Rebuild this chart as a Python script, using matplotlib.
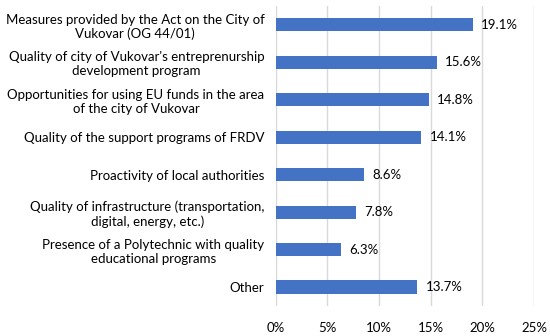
import matplotlib.pyplot as plt
from matplotlib.ticker import FuncFormatter

plt.rcParams['font.family'] = ['Lato', 'DejaVu Sans']

categories = [
    'Measures provided by the Act on the City of\nVukovar (OG 44/01)',
    "Quality of city of Vukovar's entreprenurship\ndevelopment program",
    'Opportunities for using EU funds in the area\nof the city of Vukovar',
    'Quality of the support programs of FRDV',
    'Proactivity of local authorities',
    'Quality of infrastructure (transportation,\ndigital, energy, etc.)',
    'Presence of a Polytechnic with quality\neducational programs',
    'Other',
]
values = [19.1, 15.6, 14.8, 14.1, 8.6, 7.8, 6.3, 13.7]
xticks = [0, 5, 10, 15, 20, 25]

fig = plt.figure(figsize=(5.5, 3.36), dpi=100)
ax = fig.add_axes([0.501, 0.09, 0.47, 0.892])

pos = list(range(len(categories)))
ax.barh(pos, values, height=0.35, color='#4472C4', zorder=3)
for p, v in zip(pos, values):
    ax.text(v + 0.8, p, f'{v:.1f}%', va='center', ha='left', fontsize=9.5, color='#000000')

ax.set_xlim(0, 25)
ax.set_ylim(len(categories) - 0.5, -0.5)
ax.set_xticks(xticks)
ax.xaxis.set_major_formatter(FuncFormatter(lambda x, _: f'{x:.0f}%'))
ax.set_yticks(pos)
ax.set_yticklabels(categories, multialignment='center', fontsize=9.5)
ax.tick_params(axis='both', length=0, labelsize=9.5)
ax.tick_params(axis='x', pad=12)
ax.tick_params(axis='y', pad=8)
ax.grid(axis='x', color='#d9d9d9', linewidth=1, zorder=0)
for s in ax.spines.values():
    s.set_visible(False)

fig.savefig('out.png', dpi=100)
